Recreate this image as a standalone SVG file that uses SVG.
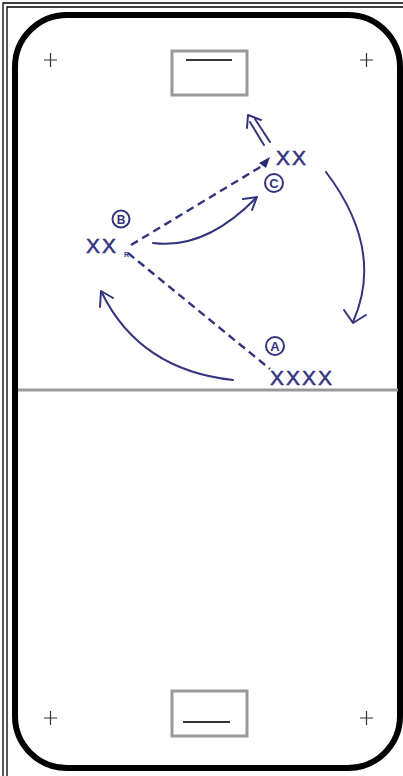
<svg xmlns="http://www.w3.org/2000/svg" width="403" height="776" viewBox="0 0 403 776">
<style>
.thin{fill:none;stroke:#000;stroke-width:1.3}
.rink{fill:#fff;stroke:#000;stroke-width:6}
.goal{fill:#fff;stroke:#999;stroke-width:3}
.gl{stroke:#333;stroke-width:2}
.cross{stroke:#333;stroke-width:1.2}
.ink{fill:none;stroke:#34347e;stroke-width:2;stroke-linecap:round;stroke-linejoin:round}
.dash{fill:none;stroke:#34347e;stroke-width:2.4;stroke-dasharray:8 5}
.lbl{font-family:"Liberation Sans",Arial,sans-serif;fill:#34347e;font-weight:bold}
.xx{font-family:"Liberation Sans",Arial,sans-serif;fill:#34347e;font-size:21px;stroke:#34347e;stroke-width:0.5;letter-spacing:2px}
</style>
<rect width="403" height="776" fill="#fff"/>
<g id="frame">
<path class="thin" d="M3,776 V3 H403"/>
<path class="thin" d="M7,776 V7 H403"/>
</g>
<g id="rink">
<rect class="rink" x="15" y="15" width="385" height="753" rx="52" ry="52"/>
<line x1="18" y1="390" x2="398" y2="390" stroke="#9a9a9a" stroke-width="3"/>
</g>
<g id="goals">
<rect class="goal" x="172" y="51" width="75" height="44"/>
<line class="gl" x1="186" y1="60" x2="232" y2="60"/>
<rect class="goal" x="172" y="691" width="75" height="45"/>
<line class="gl" x1="183" y1="722" x2="230" y2="722"/>
</g>
<g id="crosses">
<path class="cross" d="M44,60 H57 M50.5,53 V67"/>
<path class="cross" d="M360,60 H373 M366.5,53 V67"/>
<path class="cross" d="M44,718 H57 M50.5,711 V725"/>
<path class="cross" d="M360,718 H373 M366.5,711 V725"/>
</g>
<g id="connectors">
<path class="dash" d="M131,245 L262,166"/>
<path class="dash" d="M128,253 L270,369"/>
<path class="ink" d="M153,243 Q205,250 256,198"/>
<path class="ink" d="M243,199 L257,197 L252,210"/>
<path class="ink" d="M326,172 Q385,250 353,322"/>
<path class="ink" d="M344,310 L353,323 L366,315"/>
<path class="ink" d="M233,380 Q140,370 102,293"/>
<path class="ink" d="M100,307 L101,291 L113,298"/>
<path class="ink" d="M264,145 L250,122 M270,142 L255,119"/>
<path class="ink" d="M247,128 L248,115 L261,120"/>
<path d="M259,163 L270,157 L266,168 Z" fill="#2a2a70"/>
</g>
<g id="player-c">
<text class="xx" x="276" y="165">XX</text>
<circle class="ink" cx="274" cy="183" r="9"/>
<text class="lbl" x="274" y="188" font-size="13" text-anchor="middle">C</text>
</g>
<g id="player-b">
<text class="xx" x="86" y="253">XX</text>
<text class="lbl" x="124" y="257" font-size="7">R</text>
<circle class="ink" cx="121" cy="219" r="8.5"/>
<text class="lbl" x="121" y="224" font-size="12" text-anchor="middle">B</text>
</g>
<g id="player-a">
<text class="xx" x="270" y="385" font-size="19" letter-spacing="1">XXXX</text>
<circle class="ink" cx="275" cy="346" r="9"/>
<text class="lbl" x="275" y="351" font-size="13" text-anchor="middle">A</text>
</g>
</svg>
